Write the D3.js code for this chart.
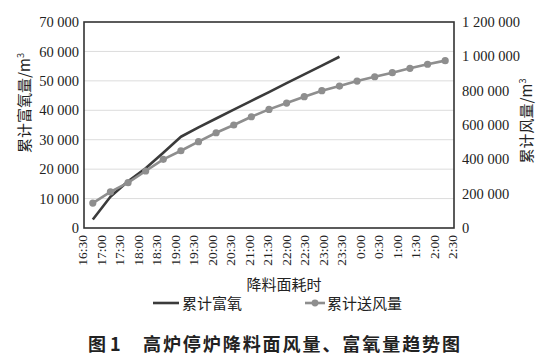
<!DOCTYPE html>
<html><head><meta charset="utf-8">
<script src="https://cdn.jsdelivr.net/npm/d3@7"></script>
<style>
html,body{margin:0;padding:0;background:#fff;}
svg{display:block;}
text{font-family:"Liberation Serif","Noto Sans CJK SC",serif;fill:#222;}
.cjk{font-family:"Noto Sans CJK SC",sans-serif;}
</style></head>
<body>
<svg id="chart" width="550" height="358"></svg>
<script>
const timeLabels = ["16:30","17:00","17:30","18:00","18:30","19:00","19:30","20:00","20:30","21:00","21:30","22:00","22:30","23:00","23:30","0:00","0:30","1:00","1:30","2:00","2:30"];
const oxygenValues = [2900,10600,15900,20300,25600,31000,34200,37200,40200,43200,46200,49200,52200,55200,58200];
const airValues = [145000,210000,264000,332000,400000,450000,503000,555000,600000,648000,691000,728000,765000,800000,827000,856000,881000,905000,930000,954000,975000];
const leftTicks = [0,10000,20000,30000,40000,50000,60000,70000];
const rightTicks = [0,200000,400000,600000,800000,1000000,1200000];

const svg = d3.select("#chart");
const L = 84, R = 454, T = 22, B = 228;
const fmt = v => d3.format(",")(v).replace(/,/g, " ");

const xBand = d3.scaleBand().domain(timeLabels).range([L, R]).paddingInner(0).paddingOuter(0);
const xLab = d3.scalePoint().domain(timeLabels).range([L, R]);
const yL = d3.scaleLinear().domain([0, 70000]).range([B, T]);
const yR = d3.scaleLinear().domain([0, 1200000]).range([B, T]);

// gridlines
svg.append("g").selectAll("line").data(leftTicks.filter(d => d > 0 && d < 70000)).join("line")
  .attr("x1", L).attr("x2", R).attr("y1", d => yL(d)).attr("y2", d => yL(d))
  .attr("stroke", "#dcdcdc").attr("stroke-width", 1);

// left axis labels
const axL = svg.append("g").attr("transform", `translate(${L},0)`)
  .call(d3.axisLeft(yL).tickValues(leftTicks).tickFormat(fmt).tickSize(0).tickPadding(5));
axL.select(".domain").remove();
axL.selectAll("text").attr("font-size", 14.5).attr("fill", "#222").style("font-family", "Liberation Serif");

// right axis labels
const axR = svg.append("g").attr("transform", `translate(${R},0)`)
  .call(d3.axisRight(yR).tickValues(rightTicks).tickFormat(fmt).tickSize(0).tickPadding(8));
axR.select(".domain").remove();
axR.selectAll("text").attr("font-size", 14.5).attr("fill", "#222").style("font-family", "Liberation Serif");

// bottom labels
const axB = svg.append("g").attr("transform", `translate(0,${B})`)
  .call(d3.axisBottom(xLab).tickSize(0).tickPadding(0));
axB.select(".domain").remove();
axB.selectAll("text")
  .attr("font-size", 13.5).attr("fill", "#222").style("font-family", "Liberation Serif")
  .attr("text-anchor", "end").attr("dy", "0.35em")
  .attr("transform", "translate(-2,7) rotate(-90)").attr("x", 0).attr("y", 0);

// frame
svg.append("rect").attr("x", L).attr("y", T).attr("width", R - L).attr("height", B - T)
  .attr("fill", "none").attr("stroke", "#333").attr("stroke-width", 1.6);

// oxygen line
const xc = d => xBand(d) + xBand.bandwidth() / 2;
const oxy = oxygenValues.map((v, i) => [xc(timeLabels[i]), yL(v)]);
svg.append("path").attr("d", d3.line()(oxy)).attr("fill", "none")
  .attr("stroke", "#3b3b3b").attr("stroke-width", 2.6).attr("stroke-linejoin", "round");

// air line
const air = airValues.map((v, i) => [xc(timeLabels[i]), yR(v)]);
svg.append("path").attr("d", d3.line()(air)).attr("fill", "none")
  .attr("stroke", "#8e8e8e").attr("stroke-width", 2.6).attr("stroke-linejoin", "round");
svg.append("g").selectAll("circle").data(air).join("circle")
  .attr("cx", d => d[0]).attr("cy", d => d[1]).attr("r", 3.6).attr("fill", "#8e8e8e");

// axis titles
svg.append("text").attr("class", "cjk").attr("transform", "translate(30,103) rotate(-90)")
  .attr("text-anchor", "middle").attr("font-size", 15).attr("fill", "#222")
  .text("累计富氧量/m").append("tspan").attr("font-size", 9).attr("dy", -6).text("3");
svg.append("text").attr("class", "cjk").attr("transform", "translate(532,121) rotate(-90)")
  .attr("text-anchor", "middle").attr("font-size", 15).attr("fill", "#222")
  .text("累计风量/m").append("tspan").attr("font-size", 9).attr("dy", -6).text("3");
svg.append("text").attr("class", "cjk").attr("x", 284).attr("y", 290)
  .attr("text-anchor", "middle").attr("font-size", 15).text("降料面耗时");

// legend
svg.append("line").attr("x1", 153).attr("x2", 179).attr("y1", 303).attr("y2", 303)
  .attr("stroke", "#3b3b3b").attr("stroke-width", 2.6);
svg.append("text").attr("class", "cjk").attr("x", 182).attr("y", 308.5).attr("font-size", 15).text("累计富氧");
svg.append("line").attr("x1", 305).attr("x2", 325).attr("y1", 303).attr("y2", 303)
  .attr("stroke", "#8e8e8e").attr("stroke-width", 2.6);
svg.append("circle").attr("cx", 315).attr("cy", 303).attr("r", 3.4).attr("fill", "#8e8e8e");
svg.append("text").attr("class", "cjk").attr("x", 327).attr("y", 308.5).attr("font-size", 15).text("累计送风量");

// caption
svg.append("text").attr("class", "cjk").attr("x", 88).attr("y", 351).attr("font-size", 18)
  .attr("font-weight", "bold").attr("fill", "#111").text("图 1");
svg.append("text").attr("class", "cjk").attr("x", 143).attr("y", 351).attr("font-size", 18)
  .attr("font-weight", "bold").attr("fill", "#111").attr("textLength", 317).attr("lengthAdjust", "spacing")
  .text("高炉停炉降料面风量、富氧量趋势图");
</script>
</body></html>
